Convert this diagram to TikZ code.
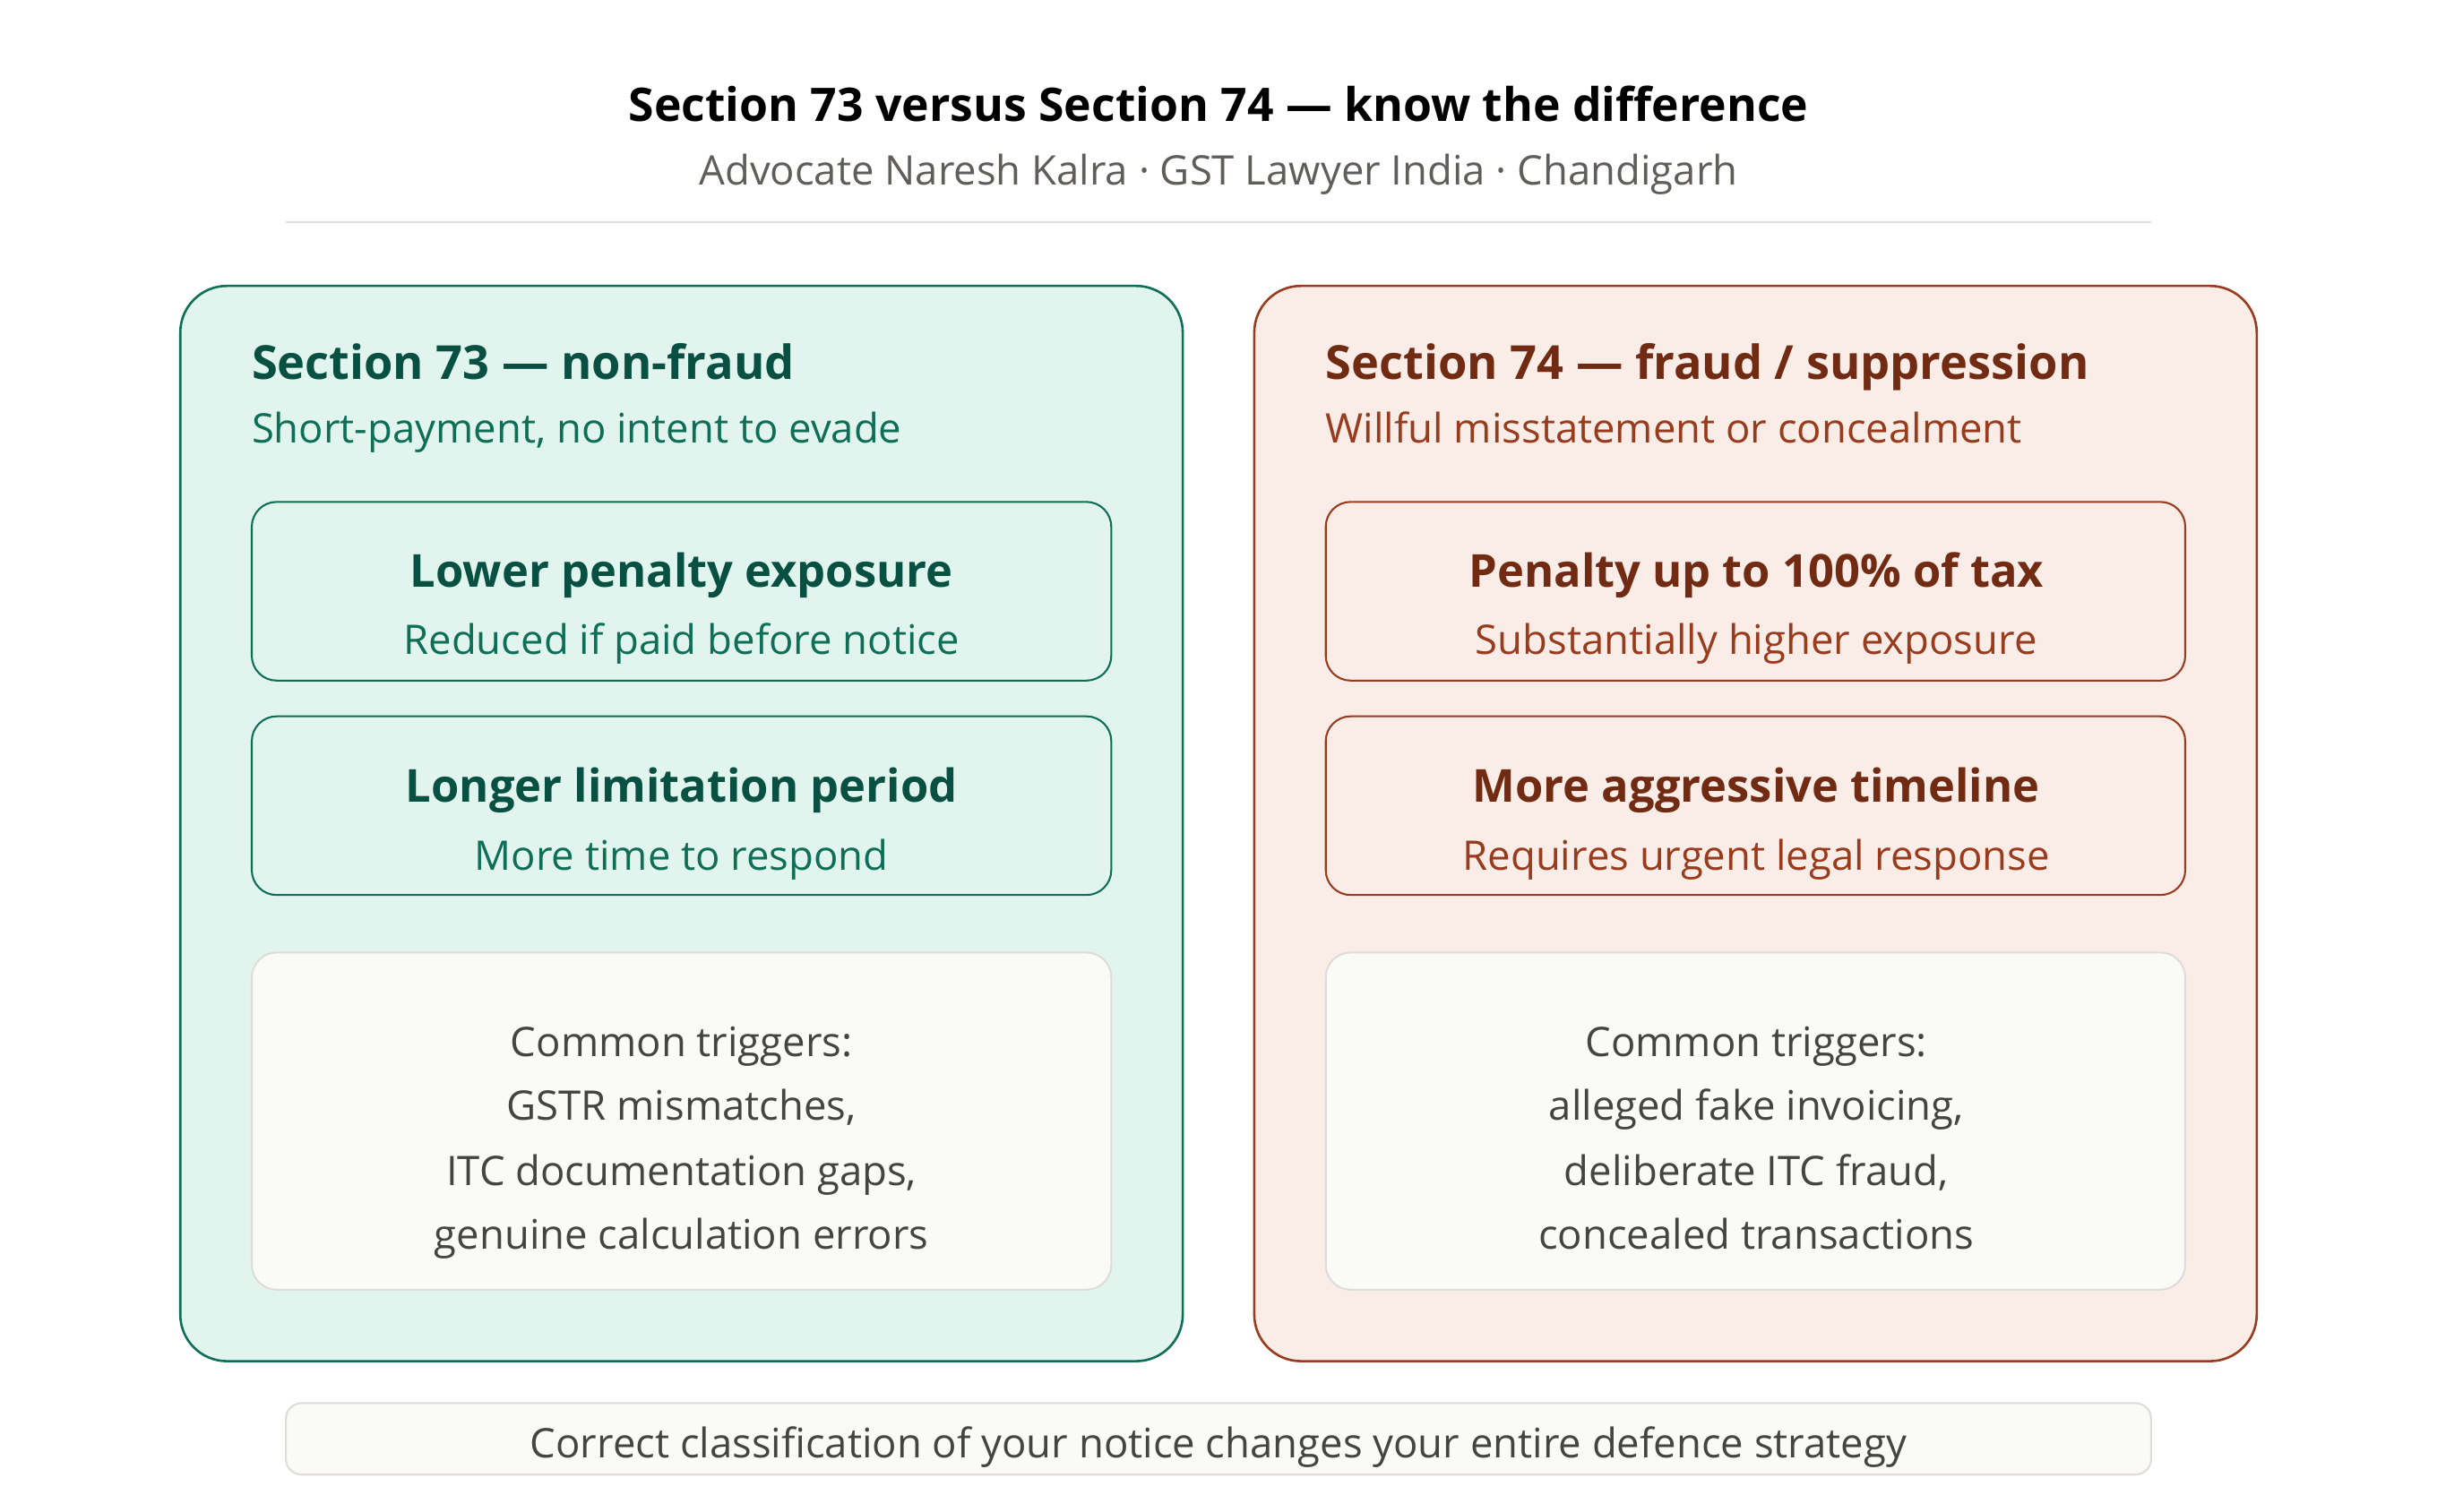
\documentclass[tikz,border=0pt]{standalone}
\usepackage{fontspec}
\setmainfont{Open Sans}
\definecolor{gstroke}{HTML}{0F6E56}
\definecolor{gfill}{HTML}{E1F5EE}
\definecolor{gtitle}{HTML}{085041}
\definecolor{gsub}{HTML}{0F6E56}
\definecolor{rstroke}{HTML}{993C1D}
\definecolor{rfill}{HTML}{FAECE7}
\definecolor{rtitle}{HTML}{712B13}
\definecolor{rsub}{HTML}{993C1D}
\definecolor{graytxt}{HTML}{444441}
\definecolor{subgray}{HTML}{5F5E5A}
\definecolor{lightfill}{HTML}{FAFAF8}
\definecolor{lightline}{HTML}{DEDDDA}
\tikzset{
  every node/.style={inner sep=0pt, outer sep=0pt},
  panel/.style={draw, line width=0.75pt, rounded corners=15pt, anchor=north west,
    minimum width=322.5pt, minimum height=346pt},
  card/.style={draw, line width=0.6pt, rounded corners=8pt, anchor=north west,
    minimum width=276.5pt, minimum height=57.5pt},
  trig/.style={draw=lightline, fill=lightfill, line width=0.6pt, rounded corners=8pt,
    anchor=north west, minimum width=276.5pt, minimum height=108.5pt},
  ptitle/.style={anchor=base west, font=\fontsize{15.1}{18}\selectfont\bfseries},
  psub/.style={anchor=base west, font=\fontsize{13.1}{15}\selectfont},
  ctitle/.style={anchor=base, font=\fontsize{14.6}{18}\selectfont\bfseries},
  csub/.style={anchor=base, font=\fontsize{13.1}{15}\selectfont},
  tline/.style={anchor=base, text=graytxt, font=\fontsize{13.1}{15}\selectfont},
}
\begin{document}
\begin{tikzpicture}[x=0.5pt, y=-0.5pt]
\useasboundingbox[fill=white] (0,0) rectangle (1568,973);
% header
\node[anchor=base, font=\fontsize{14.9}{18}\selectfont\bfseries, text=black] (title) at (784,78) {Section 73 versus Section 74 — know the difference};
\node[anchor=base, font=\fontsize{13.1}{16}\selectfont, text=subgray] (subtitle) at (784,119) {Advocate Naresh Kalra · GST Lawyer India · Chandigarh};
\coordinate (sepL) at (184,143);
\coordinate (sepR) at (1384,143);
\draw[lightline, line width=0.75pt] (sepL) -- (sepR);
% left panel
\node[panel, draw=gstroke, fill=gfill] (lp) at (116,184) {};
\node[ptitle, text=gtitle] (lpt) at (162,244) {Section 73 — non-fraud};
\node[psub, text=gsub] (lps) at (162,285) {Short-payment, no intent to evade};
\node[card, draw=gstroke, fill=gfill] (lc1) at (162,323) {};
\node[ctitle, text=gtitle] (lc1t) at (438.5,378) {Lower penalty exposure};
\node[csub, text=gsub] (lc1s) at (438.5,421) {Reduced if paid before notice};
\node[card, draw=gstroke, fill=gfill] (lc2) at (162,461) {};
\node[ctitle, text=gtitle] (lc2t) at (438.5,516) {Longer limitation period};
\node[csub, text=gsub] (lc2s) at (438.5,560) {More time to respond};
\node[trig] (lc3) at (162,613) {};
\node[tline] (l31) at (438.5,680) {Common triggers:};
\node[tline] (l32) at (438.5,721) {GSTR mismatches,};
\node[tline] (l33) at (438.5,763) {ITC documentation gaps,};
\node[tline] (l34) at (438.5,804) {genuine calculation errors};
% right panel
\node[panel, draw=rstroke, fill=rfill] (rp) at (807,184) {};
\node[ptitle, text=rtitle] (rpt) at (853,244) {Section 74 — fraud / suppression};
\node[psub, text=rsub] (rps) at (853,285) {Willful misstatement or concealment};
\node[card, draw=rstroke, fill=rfill] (rc1) at (853,323) {};
\node[ctitle, text=rtitle] (rc1t) at (1130,378) {Penalty up to 100\% of tax};
\node[csub, text=rsub] (rc1s) at (1130,421) {Substantially higher exposure};
\node[card, draw=rstroke, fill=rfill] (rc2) at (853,461) {};
\node[ctitle, text=rtitle] (rc2t) at (1130,516) {More aggressive timeline};
\node[csub, text=rsub] (rc2s) at (1130,560) {Requires urgent legal response};
\node[trig] (rc3) at (853,613) {};
\node[tline] (r31) at (1130,680) {Common triggers:};
\node[tline] (r32) at (1130,721) {alleged fake invoicing,};
\node[tline] (r33) at (1130,763) {deliberate ITC fraud,};
\node[tline] (r34) at (1130,804) {concealed transactions};
% footer
\node[draw=lightline, fill=lightfill, line width=0.6pt, rounded corners=5pt, anchor=north west,
  minimum width=600pt, minimum height=23pt] (foot) at (184,903) {};
\node[tline] (foott) at (784,938) {Correct classification of your notice changes your entire defence strategy};
\end{tikzpicture}
\end{document}
